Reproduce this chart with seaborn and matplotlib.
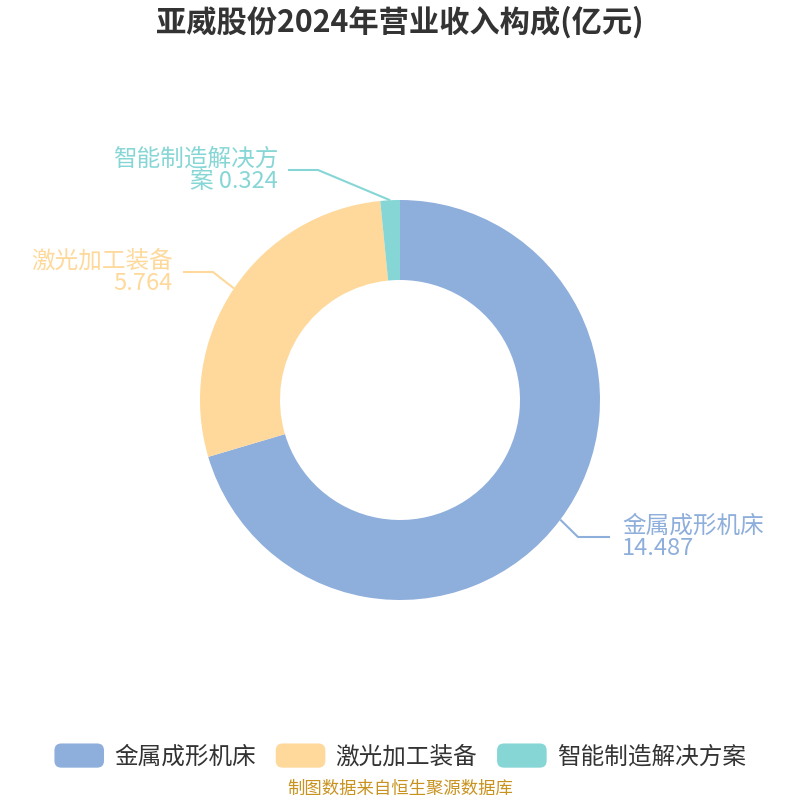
import numpy as np
import matplotlib
matplotlib.use("Agg")
import matplotlib.pyplot as plt
import seaborn as sns
from matplotlib.patches import FancyBboxPatch
from matplotlib.legend_handler import HandlerPatch

# 数据
categories = ["金属成形机床", "激光加工装备", "智能制造解决方案"]
values = [14.487, 5.764, 0.324]
colors = ["#8eaedb", "#fed99b", "#86d6d6"]
title = "亚威股份2024年营业收入构成(亿元)"
source = "制图数据来自恒生聚源数据库"

sns.set_theme(style="white")
plt.rcParams["font.family"] = ["Noto Sans CJK SC", "DejaVu Sans"]

fig = plt.figure(figsize=(8, 8), dpi=100)
ax = fig.add_axes([0, 0, 1, 1])

wedges, _ = ax.pie(values, colors=colors, startangle=90, counterclock=False,
                   radius=1.0, wedgeprops=dict(width=0.4, edgecolor="none"))
# pie 会改坐标范围, 之后再设
ax.set_xlim(-2, 2)
ax.set_ylim(-2, 2)
ax.set_aspect("equal")
ax.axis("off")

# 标签 (文字, 折点, 水平线终点, 对齐)
label_text = ["金属成形机床\n14.487", "激光加工装备\n5.764", "智能制造解决方\n案 0.324"]
elbow = [(0.89, -0.685), (-0.935, 0.64), (-0.41, 1.15)]
line_end = [1.05, -1.085, -0.56]
ha_list = ["left", "right", "right"]

for w, txt, (ex, ey), lx, ha, c in zip(wedges, label_text, elbow, line_end, ha_list, colors):
    ang = np.deg2rad((w.theta1 + w.theta2) / 2)
    sx, sy = np.cos(ang), np.sin(ang)
    ax.plot([sx, ex, lx], [sy, ey, ey], color=c, lw=1.5, solid_capstyle="butt")
    tx = lx + 0.06 if ha == "left" else lx - 0.05
    ax.text(tx, ey, txt, ha=ha, va="center", color=c, fontsize=17,
            linespacing=0.95, multialignment=ha)

fig.text(0.5, 0.972, title, ha="center", va="center", fontsize=21.8,
         fontweight="bold", color="#333333")


class RoundHandler(HandlerPatch):
    def create_artists(self, legend, orig_handle, xdescent, ydescent,
                       width, height, fontsize, trans):
        p = FancyBboxPatch((-xdescent, -ydescent), width, height,
                           boxstyle="round,pad=0,rounding_size=5",
                           facecolor=orig_handle.get_facecolor(),
                           edgecolor="none", transform=trans)
        return [p]


leg = fig.legend(wedges, categories, loc="center", bbox_to_anchor=(0.5, 0.055),
                 ncol=3, frameon=False, fontsize=17, handlelength=2.1,
                 handleheight=1.2, columnspacing=0.85, handletextpad=0.42,
                 handler_map={matplotlib.patches.Wedge: RoundHandler()})
for t in leg.get_texts():
    t.set_color("#333333")

fig.text(0.5, 0.014, source, ha="center", va="center", fontsize=12.5,
         color="#c8921f")

fig.savefig("out.png", dpi=100)
